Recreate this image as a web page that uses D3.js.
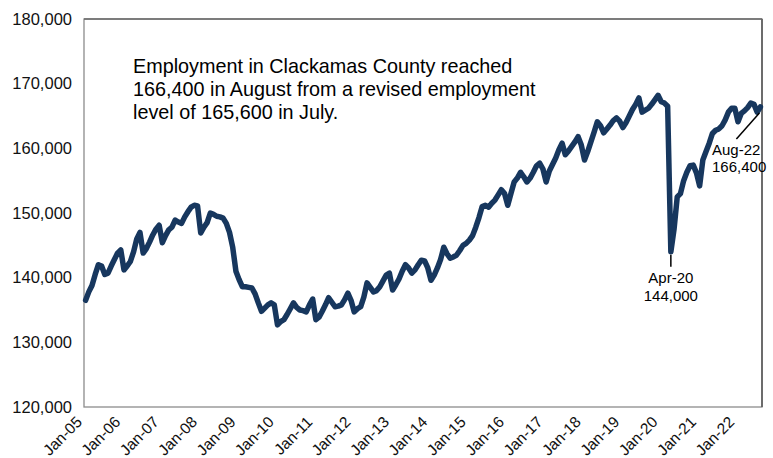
<!DOCTYPE html>
<html><head><meta charset="utf-8">
<script src="https://cdn.jsdelivr.net/npm/d3@7"></script>
<style>body{margin:0;background:#fff;} text{font-family:"Liberation Sans",Arial,sans-serif;}</style>
</head><body><svg id="c" width="773" height="458"></svg>
<script>
const years = ["05","06","07","08","09","10","11","12","13","14","15","16","17","18","19","20","21","22"];
const monthNames = ["Jan","Feb","Mar","Apr","May","Jun","Jul","Aug","Sep","Oct","Nov","Dec"];
const employment = [
136500,137800,138800,140500,142000,141800,140500,140700,141800,142800,143800,144300,
141200,141800,142500,144000,146000,147000,143800,144500,145500,146600,147500,148100,
145400,146500,147400,147800,148900,148600,148400,149400,150200,150900,151200,151100,
146900,147800,148500,150000,149800,149500,149400,149200,148400,147000,144700,141000,
139700,138600,138600,138500,138400,137500,136100,134800,135300,135800,136100,135800,
132700,133200,133500,134300,135200,136100,135400,135000,134900,134700,135800,136700,
133500,133900,134800,135800,136900,136200,135500,135600,135800,136600,137600,136500,
134700,135200,135500,137000,139200,138500,137800,138000,138600,139500,140400,140700,
138100,138900,139800,141000,142000,141500,140700,141200,142000,142700,142600,141500,
139600,140400,141500,142800,144700,143700,143000,143200,143500,144200,145000,145300,
145800,146500,147800,149300,151000,151200,150900,151500,152000,152800,153600,153000,
151200,153000,154800,155400,156300,155600,154800,155400,156300,157300,157700,156800,
154800,156500,157500,158500,159800,160800,159000,159600,160300,161000,161800,160500,
158200,159500,161000,162500,164100,163500,162400,163000,163600,164300,164700,164200,
163200,164000,165000,166000,166800,167800,165600,165900,166200,166800,167500,168200,
167200,167000,166500,144000,147500,152500,153000,155000,156300,157300,157400,156200,
154200,158200,159500,160800,162300,162800,163000,163500,164400,165600,166200,166200,
164100,165400,165800,166300,167000,166800,165600,166400
];
const months = employment.map((v,i)=> monthNames[i%12] + "-" + years[Math.floor(i/12)]);
const yTicks = [120000,130000,140000,150000,160000,170000,180000];
const xTickLabels = years.slice(0,18).map(y=>"Jan-"+y);
const noteLines = ["Employment in Clackamas County reached","166,400 in August from a revised employment","level of 165,600 in July."];
const callouts = [
  {month:"Apr-20", value:144000, label:["Apr-20","144,000"]},
  {month:"Aug-22", value:166400, label:["Aug-22","166,400"]}
];

const svg = d3.select("#c");
const L=84, R=762, T=19, B=407;
const x = d3.scaleBand().domain(months).range([L,R]).paddingInner(0).paddingOuter(0);
const y = d3.scaleLinear().domain([120000,180000]).range([B,T]);
const fmt = d3.format(",");
const cx = m => x(m) + x.bandwidth()/2;

// plot frame
svg.append("rect").attr("x",L).attr("y",T).attr("width",R-L).attr("height",B-T)
  .attr("fill","none").attr("stroke","#8c8c8c").attr("stroke-width",1.3);
svg.append("line").attr("x1",R).attr("x2",R).attr("y1",T).attr("y2",B).attr("stroke","#555").attr("stroke-width",1.5);
svg.append("line").attr("x1",L).attr("x2",R).attr("y1",T).attr("y2",T).attr("stroke","#6a6a6a").attr("stroke-width",1.5);

// y axis labels
const yAxis = d3.axisLeft(y).tickValues(yTicks).tickFormat(fmt).tickSize(0).tickPadding(12);
const gy = svg.append("g").attr("transform",`translate(${L},0)`).call(yAxis);
gy.select(".domain").remove();
gy.selectAll("text").attr("font-size",16.5).attr("fill","#111").attr("font-family","Liberation Sans, Arial, sans-serif");

// x axis labels
svg.append("g").selectAll("text").data(xTickLabels).join("text")
  .attr("transform",d=>`translate(${x(d)-1},423) rotate(-45)`)
  .attr("text-anchor","end").attr("font-size",15.5).attr("fill","#111").text(d=>d);

// line
const line = d3.line().x((d,i)=>cx(months[i])).y(d=>y(d)).curve(d3.curveLinear);
svg.append("path").datum(employment).attr("d",line).attr("fill","none")
  .attr("stroke","#17375e").attr("stroke-width",5.5).attr("stroke-linejoin","round").attr("stroke-linecap","round");

// note
svg.append("text").attr("x",133).attr("y",73).attr("font-size",19.8).attr("fill","#000")
  .selectAll("tspan").data(noteLines).join("tspan").attr("x",133).attr("dy",(d,i)=>i?23:0).text(d=>d);

// callouts
const c1 = callouts[0];
svg.append("line").attr("x1",cx(c1.month)).attr("x2",cx(c1.month)).attr("y1",y(c1.value)+3).attr("y2",y(c1.value)+15).attr("stroke","#000").attr("stroke-width",1.5);
svg.append("text").attr("text-anchor","middle").attr("font-size",15).attr("fill","#000")
  .selectAll("tspan").data(c1.label).join("tspan").attr("x",cx(c1.month)).attr("y",(d,i)=>283+i*18).text(d=>d);
const c2 = callouts[1];
svg.append("line").attr("x1",cx(c2.month)-1).attr("y1",y(c2.value)+6).attr("x2",cx(c2.month)-24).attr("y2",y(c2.value)+32).attr("stroke","#000").attr("stroke-width",1.5);
svg.append("text").attr("font-size",15).attr("fill","#000")
  .selectAll("tspan").data(c2.label).join("tspan").attr("x",712).attr("y",(d,i)=>155+i*17).text(d=>d);
</script></body></html>
